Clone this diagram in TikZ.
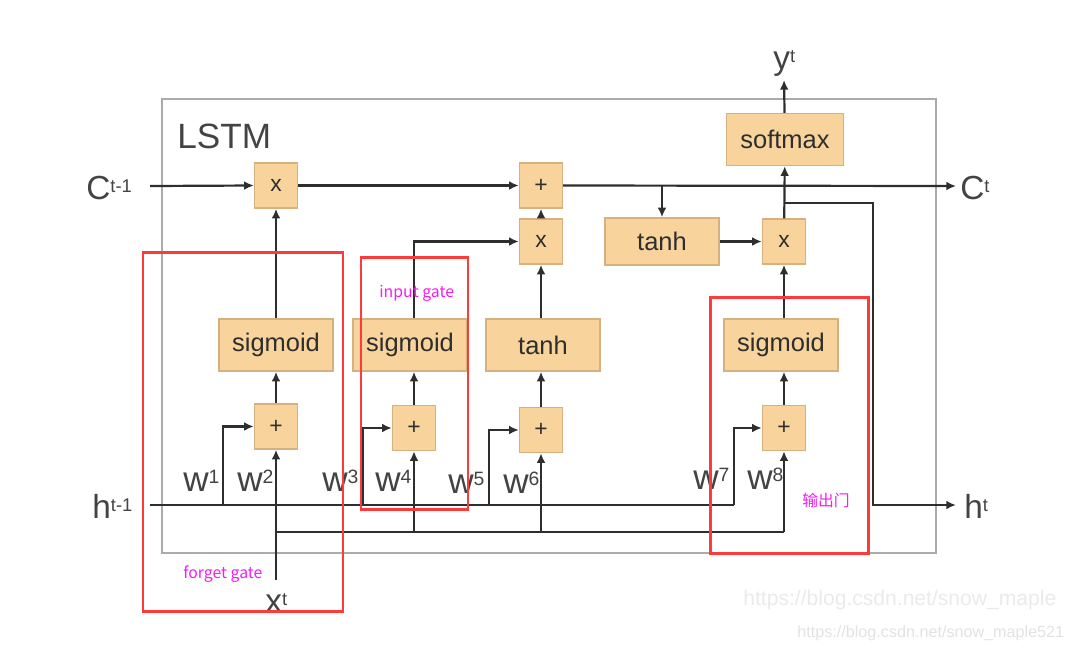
\documentclass[tikz,border=0pt]{standalone}
\usepackage{xcolor}
\usepackage{fontspec}
\setmainfont{Liberation Sans}
\newfontfamily\cjkfont{Noto Sans CJK SC}
\usepackage{tikz}
\usetikzlibrary{arrows.meta}

\definecolor{boxfill}{HTML}{F8D49C}
\definecolor{boxline}{HTML}{D6B07E}
\definecolor{ink}{HTML}{2E2E2E}
\definecolor{framegray}{HTML}{ABABAB}
\definecolor{redmark}{HTML}{FF3A3A}
\definecolor{notepink}{HTML}{F41CF4}
\definecolor{wmbig}{HTML}{EAEAEA}
\definecolor{wmsmall}{HTML}{E2E2E2}

\newcommand{\upidx}[1]{\raisebox{0.2em}{\scalebox{0.55}{#1}}}

\tikzset{
  gatebox/.style={draw=boxline, fill=boxfill, line width=0.8pt, minimum width=2.28cm, minimum height=1.04cm, inner sep=0pt, text=ink, font=\fontsize{14.5}{16}\selectfont},
  opbox/.style={draw=boxline, fill=boxfill, line width=0.8pt, minimum width=0.86cm, minimum height=0.9cm, inner sep=0pt, text=ink, font=\fontsize{13}{14}\selectfont},
  flow/.style={draw=ink, line width=1.25pt, -{Latex[length=5.5pt,width=5pt]}},
  wire/.style={draw=ink, line width=1.25pt},
  cellframe/.style={draw=framegray, line width=1.3pt},
  redbox/.style={draw=redmark, line width=1.7pt},
  sig/.style={anchor=base west, inner sep=0pt, text=ink!90, font=\fontsize{19}{20}\selectfont},
  wlabel/.style={anchor=base west, inner sep=0pt, text=ink!90, font=\fontsize{20}{22}\selectfont},
  gatenote/.style={anchor=base west, inner sep=0pt, text=notepink, font=\cjkfont\fontsize{9}{10}\selectfont},
}

\begin{document}
\begin{tikzpicture}[x=0.02cm,y=-0.02cm]
\useasboundingbox (0,0) rectangle (1065,650);

\draw[cellframe] (162,99) rectangle (936,553);
\node[anchor=base west, inner sep=0pt, text=ink!90, font=\fontsize{20}{22}\selectfont] (lstm) at (177,148) {LSTM};

\node[opbox] (fmul) at (276,185.5) {x};
\node[opbox] (cadd) at (541,185.5) {+};
\node[opbox] (imul) at (541,241.5) {x};
\node[gatebox, minimum height=0.94cm] (ctanh) at (662,241.5) {tanh};
\node[opbox] (omul) at (784,241.5) {x};
\node[gatebox, minimum width=2.34cm] (smax) at (785,139.5) {softmax};

\node[gatebox] (fsig) at (276,345) {sigmoid};
\node[gatebox] (isig) at (410,345) {sigmoid};
\node[gatebox] (gtanh) at (543,345) {tanh};
\node[gatebox] (osig) at (781,345) {sigmoid};

\node[opbox] (fadd) at (276,426.5) {+};
\node[opbox] (iadd) at (414,428) {+};
\node[opbox] (gadd) at (541,430) {+};
\node[opbox] (oadd) at (784,428) {+};

\node[sig] (cprev) at (86,199) {C\upidx{t-1}};
\node[sig] (cnext) at (960,199) {C\upidx{t}};
\node[sig] (hprev) at (92,518) {h\upidx{t-1}};
\node[sig] (hnext) at (964,518) {h\upidx{t}};
\node[sig] (xnow) at (265,612) {x\upidx{t}};
\node[sig] (ynow) at (773,69) {y\upidx{t}};

\coordinate (cin) at (150,186);
\coordinate (cout) at (956,186);
\coordinate (hin) at (150,505);
\coordinate (hout) at (956,505);
\coordinate (xin) at (276,580);
\coordinate (yout) at (784,80);
\coordinate (obranch) at (784,203);
\coordinate (oturn) at (873,203);
\coordinate (hf) at (223,505);
\coordinate (hi) at (363,505);
\coordinate (hg) at (489,505);
\coordinate (ho) at (734,505);
\coordinate (xs) at (276,532);
\coordinate (xo) at (784,532);

\draw[flow] (cin) -- (fmul.west);
\draw[flow] (fmul.east) -- (cadd.west);
\draw[flow] (cadd.east) -- (cout);
\draw[flow] (cadd.east -| ctanh) -- (ctanh.north);
\draw[flow] (imul) -- (cadd);
\draw[flow] (ctanh.east) -- (omul.west);
\draw[flow] (omul) -- (smax);
\draw[flow] (smax) -- (yout);
\draw[flow] (obranch) -- (oturn) |- (hout);

\draw[flow] (fsig) -- (fmul);
\draw[flow] (isig.north -| iadd) |- (imul.west);
\draw[flow] (gtanh.north -| imul) -- (imul.south);
\draw[flow] (osig.north -| omul) -- (omul.south);

\draw[flow] (fadd) -- (fsig);
\draw[flow] (iadd.north) -- (iadd.north |- isig.south);
\draw[flow] (gadd.north) -- (gadd.north |- gtanh.south);
\draw[flow] (oadd.north) -- (oadd.north |- osig.south);

\draw[wire] (hin) -- (ho);
\draw[flow] (hf) |- (fadd.west);
\draw[flow] (hi) |- (iadd.west);
\draw[flow] (hg) |- (gadd.west);
\draw[flow] (ho) |- (oadd.west);

\draw[flow] (xin) -- (fadd.south);
\draw[wire] (xs) -- (xo);
\draw[flow] (xs -| iadd) -- (iadd.south);
\draw[flow] (xs -| gadd) -- (gadd.south);
\draw[flow] (xo) -- (oadd.south);

\node[wlabel] (w1) at (183,491) {w\upidx{1}};
\node[wlabel] (w2) at (237,491) {w\upidx{2}};
\node[wlabel] (w3) at (322,491) {w\upidx{3}};
\node[wlabel] (w4) at (375,491) {w\upidx{4}};
\node[wlabel] (w5) at (448,493) {w\upidx{5}};
\node[wlabel] (w6) at (503,493) {w\upidx{6}};
\node[wlabel] (w7) at (693,489) {w\upidx{7}};
\node[wlabel] (w8) at (747,489) {w\upidx{8}};

\draw[redbox] (143,252) rectangle (343,611);
\draw[redbox] (361,257) rectangle (468,509);
\draw[redbox] (710,297) rectangle (868,553);

\node[gatenote] (inote) at (379,297) {input gate};
\node[gatenote] (fnote) at (183,578) {forget gate};
\node[gatenote] (onote) at (802,506) {输出门};

\node[anchor=base west, inner sep=0pt, text=wmbig, font=\fontsize{12}{13}\selectfont] (wm1) at (743,605) {https://blog.csdn.net/snow\_maple};
\node[anchor=base west, inner sep=0pt, text=wmsmall, font=\fontsize{9.2}{10}\selectfont] (wm2) at (797,637) {https://blog.csdn.net/snow\_maple521};
\end{tikzpicture}
\end{document}
